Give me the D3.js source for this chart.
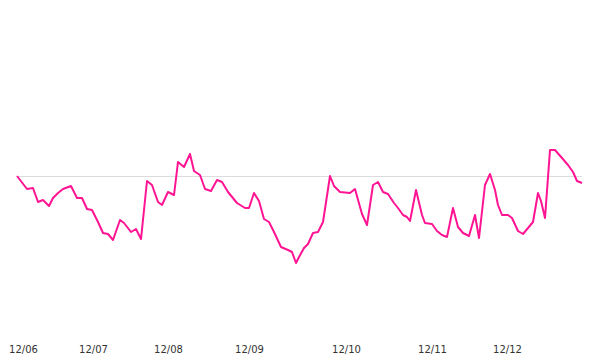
<!DOCTYPE html>
<html>
<head>
<meta charset="utf-8">
<script src="https://cdn.jsdelivr.net/npm/d3@7"></script>
<style>
  body { margin: 0; background: #fff; }
  svg { display: block; }
</style>
</head>
<body>
<svg id="chart"></svg>
<script>
// day offset from the first sample
const days = [
  0, 10, 16, 21, 26, 32, 36, 41, 46, 54,
  60, 65, 70, 75, 81, 86, 91, 96, 103, 107,
  114, 119, 124, 130, 135, 141, 145, 151, 157, 161,
  167, 173, 177, 183, 188, 194, 200, 205, 211, 220,
  228, 232, 237, 242, 247, 252, 257, 264, 271, 275,
  279, 282, 287, 291, 296, 301, 306, 313, 317, 323,
  333, 338, 345, 350, 356, 361, 366, 371, 377, 381,
  386, 390, 393, 399, 405, 408, 415, 420, 425, 430,
  436, 441, 446, 452, 458, 462, 468, 473, 478, 481,
  485, 491, 495, 501, 506, 511, 516, 521, 524, 528,
  533, 538, 545, 551, 556, 560, 565
]

// change vs. starting level
const values = [
  0, -6.5, -6, -13, -12, -15, -11, -8.5, -6.5, -5,
  -11, -11, -16.5, -17, -23, -28.5, -29, -32, -22, -23.5,
  -28, -26.5, -31.5, -2.5, -4.5, -13, -14.5, -8, -9.5, 7,
  4.5, 11, 2.5, 0.5, -6.5, -7.5, -2, -3, -8, -13.5,
  -16, -16, -8.5, -12.5, -21.5, -23, -28, -35.5, -37, -38,
  -43.5, -40.5, -36, -34, -28.5, -28, -23, 0, -5, -8,
  -8.5, -6.5, -19, -24.5, -4.5, -3, -8, -9, -13.5, -16,
  -19.5, -20.5, -22.5, -7, -19.5, -23.5, -24, -27.5, -29.5, -30.5,
  -16, -25.5, -28.5, -30, -19.5, -31, -4.5, 1, -7, -14.5,
  -19.5, -19.5, -21, -27.5, -29, -26, -23, -8.5, -12.5, -21,
  13, 13, 9, 5.5, 2, -2.5, -3.5
]

const tickDays = [6, 76, 151, 232, 329, 415, 490]
const tickLabels = ['12/06', '12/07', '12/08', '12/09', '12/10', '12/11', '12/12']

const width = 600
const height = 360
const margin = { top: 56, right: 17, bottom: 64, left: 17 }

const svg = d3.select('#chart')
  .attr('width', width)
  .attr('height', height)

const x = d3.scaleLinear()
  .domain([0, 566])
  .range([margin.left, width - margin.right])

const y = d3.scaleLinear()
  .domain([-60, 60])
  .range([height - margin.bottom, margin.top])

const data = days.map((d, i) => ({ day: d, value: values[i] }))

// zero line
svg.append('line')
  .attr('x1', x(0))
  .attr('x2', x(d3.max(days)))
  .attr('y1', Math.round(y(0)) + 0.5)
  .attr('y2', Math.round(y(0)) + 0.5)
  .attr('stroke', '#dcdcdc')
  .attr('stroke-width', 1)

const xAxis = g => g
  .attr('transform', `translate(0,${height - 7})`)
  .call(d3.axisBottom(x)
    .tickValues(tickDays)
    .tickFormat((d, i) => tickLabels[i])
    .tickSize(0)
    .tickPadding(0))
  .call(g => g.select('.domain').remove())
  .call(g => g.selectAll('text')
    .attr('dy', 0)
    .attr('fill', '#333')
    .style('font-family', 'DejaVu Sans, sans-serif')
    .style('font-size', '10px'))

svg.append('g').call(xAxis)

const line = d3.line()
  .x(d => x(d.day))
  .y(d => y(d.value))

svg.append('path')
  .datum(data)
  .attr('fill', 'none')
  .attr('stroke', '#ff1493')
  .attr('stroke-width', 2)
  .attr('stroke-linejoin', 'round')
  .attr('d', line)
</script>
</body>
</html>
